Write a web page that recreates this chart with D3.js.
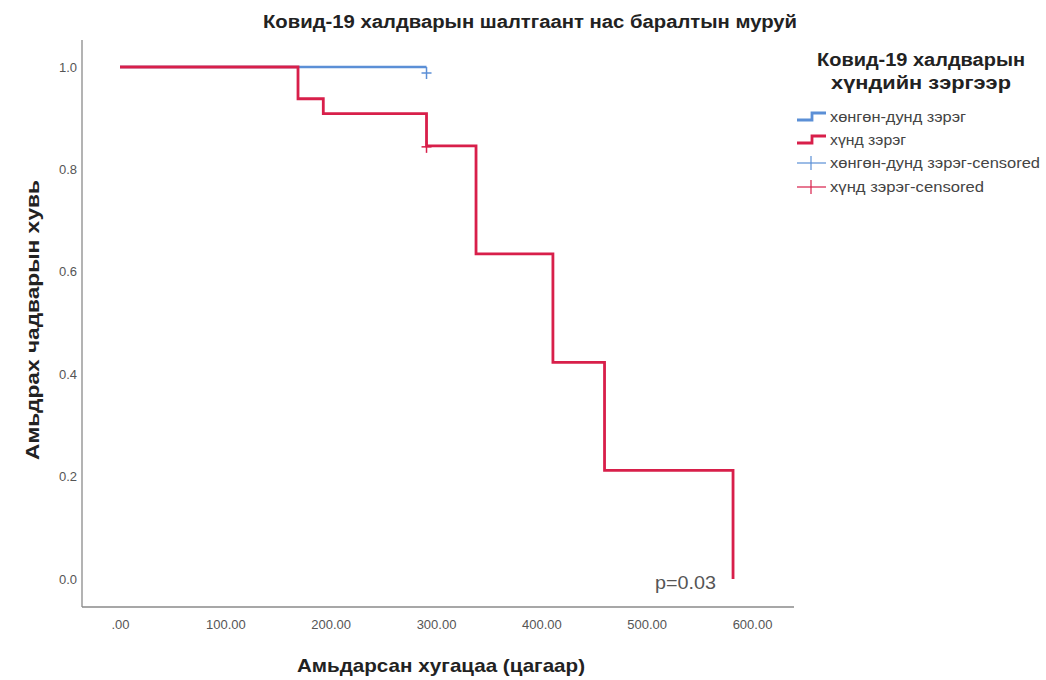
<!DOCTYPE html>
<html>
<head>
<meta charset="utf-8">
<script src="https://cdn.jsdelivr.net/npm/d3@7"></script>
<style>
  body { margin: 0; background: #fff; }
  svg { font-family: "Liberation Sans", Arial, sans-serif; }
</style>
</head>
<body>
<div id="chart"></div>
<script>
// survival curve data (time in hours, survival proportion)
var severeTimes = [0, 169, 193, 291, 338, 411, 460, 582];
var severeSurv = [1.0, 0.938, 0.909, 0.846, 0.635, 0.423, 0.212, 0.0];
var severeCensorTimes = [291];
var severeCensorSurv = [0.846];

var mildTimes = [0, 291];
var mildSurv = [1.0, 1.0];
var mildCensorTimes = [291];
var mildCensorSurv = [1.0];

var xTicks = [0, 100, 200, 300, 400, 500, 600];
var yTicks = [0, 0.2, 0.4, 0.6, 0.8, 1.0];

var legendLabels = ["хөнгөн-дунд зэрэг", "хүнд зэрэг", "хөнгөн-дунд зэрэг-censored", "хүнд зэрэг-censored"];
var legendWidths = [136, 76, 210, 154];

var blue = "#5b8fd6";
var red = "#d81f4a";

var svgWidth = 1046, svgHeight = 680;

var svg = d3.select("#chart")
  .append("svg")
  .attr("width", svgWidth)
  .attr("height", svgHeight);

// scales
var xScale = d3.scaleLinear().domain([0, 600]).range([120, 752]);
var yScale = d3.scaleLinear().domain([0, 1]).range([579, 67]);

// frame (left + bottom lines)
svg.append("line").attr("x1", 82).attr("x2", 82).attr("y1", 40).attr("y2", 607)
  .attr("stroke", "#8a8a8a").attr("stroke-width", 1.3);
svg.append("line").attr("x1", 82).attr("x2", 794).attr("y1", 607).attr("y2", 607)
  .attr("stroke", "#8a8a8a").attr("stroke-width", 1.3);

// axes, no tick marks, just labels
var xAxis = d3.axisBottom(xScale)
  .tickValues(xTicks)
  .tickSize(0)
  .tickFormat(function (d) { return d === 0 ? ".00" : d.toFixed(2); });
var gx = svg.append("g")
  .attr("transform", "translate(0,617)")
  .call(xAxis);
gx.select(".domain").remove();
gx.selectAll("text").attr("fill", "#555").attr("font-size", 13)
  .attr("font-family", "Liberation Sans, Arial, sans-serif");

var yAxis = d3.axisLeft(yScale)
  .tickValues(yTicks)
  .tickSize(0)
  .tickFormat(d3.format(".1f"));
var gy = svg.append("g")
  .attr("transform", "translate(80,0)")
  .call(yAxis);
gy.select(".domain").remove();
gy.selectAll("text").attr("fill", "#555").attr("font-size", 13)
  .attr("font-family", "Liberation Sans, Arial, sans-serif");

// step lines
var stepLine = d3.line()
  .x(function (d) { return xScale(d[0]); })
  .y(function (d) { return yScale(d[1]); })
  .curve(d3.curveStepAfter);

var mildData = d3.zip(mildTimes, mildSurv);
var severeData = d3.zip(severeTimes, severeSurv);

svg.append("path")
  .datum(mildData)
  .attr("d", stepLine)
  .attr("fill", "none")
  .attr("stroke", blue)
  .attr("stroke-width", 2.5);

// last point of severe curve drops straight to 0
svg.append("path")
  .datum(severeData)
  .attr("d", stepLine)
  .attr("fill", "none")
  .attr("stroke", red)
  .attr("stroke-width", 2.8);

// censored markers (+)
function drawCensor(times, surv, color, dy) {
  d3.zip(times, surv).forEach(function (d) {
    var cx = xScale(d[0]), cy = yScale(d[1]) + dy;
    svg.append("line").attr("x1", cx - 5).attr("x2", cx + 5).attr("y1", cy).attr("y2", cy)
      .attr("stroke", color).attr("stroke-width", 1.5);
    svg.append("line").attr("x1", cx).attr("x2", cx).attr("y1", cy - 6).attr("y2", cy + 6)
      .attr("stroke", color).attr("stroke-width", 1.5);
  });
}
drawCensor(mildCensorTimes, mildCensorSurv, blue, 6);
drawCensor(severeCensorTimes, severeCensorSurv, red, 1);

// title
svg.append("text")
  .attr("x", 530).attr("y", 28)
  .attr("text-anchor", "middle")
  .attr("font-size", 18).attr("font-weight", "bold").attr("fill", "#222")
  .attr("textLength", 534).attr("lengthAdjust", "spacingAndGlyphs")
  .text("Ковид-19 халдварын шалтгаант нас баралтын муруй");

// axis labels
svg.append("text")
  .attr("x", 441).attr("y", 672)
  .attr("text-anchor", "middle")
  .attr("font-size", 19).attr("font-weight", "bold").attr("fill", "#222")
  .attr("textLength", 288).attr("lengthAdjust", "spacingAndGlyphs")
  .text("Амьдарсан хугацаа (цагаар)");

svg.append("text")
  .attr("transform", "translate(39,320) rotate(-90)")
  .attr("text-anchor", "middle")
  .attr("font-size", 19).attr("font-weight", "bold").attr("fill", "#222")
  .attr("textLength", 280).attr("lengthAdjust", "spacingAndGlyphs")
  .text("Амьдрах чадварын хувь");

// p value
svg.append("text")
  .attr("x", 716).attr("y", 589)
  .attr("text-anchor", "end")
  .attr("font-size", 19).attr("fill", "#555")
  .attr("textLength", 61).attr("lengthAdjust", "spacingAndGlyphs")
  .text("p=0.03");

// legend
svg.append("text")
  .attr("x", 921).attr("y", 66)
  .attr("text-anchor", "middle")
  .attr("font-size", 18).attr("font-weight", "bold").attr("fill", "#222")
  .attr("textLength", 208).attr("lengthAdjust", "spacingAndGlyphs")
  .text("Ковид-19 халдварын");
svg.append("text")
  .attr("x", 921).attr("y", 89)
  .attr("text-anchor", "middle")
  .attr("font-size", 18).attr("font-weight", "bold").attr("fill", "#222")
  .attr("textLength", 180).attr("lengthAdjust", "spacingAndGlyphs")
  .text("хүндийн зэргээр");

var legendColors = [blue, red, blue, red];
var legendY = [117, 140, 163, 187];

legendLabels.forEach(function (label, i) {
  var y = legendY[i];
  if (i < 2) {
    svg.append("path")
      .attr("d", "M797," + (y + 3) + "H812V" + (y - 4) + "H826")
      .attr("fill", "none")
      .attr("stroke", legendColors[i])
      .attr("stroke-width", 2.8);
  } else {
    svg.append("line").attr("x1", 797).attr("x2", 826).attr("y1", y).attr("y2", y)
      .attr("stroke", legendColors[i]).attr("stroke-width", 1.2);
    svg.append("line").attr("x1", 811).attr("x2", 811).attr("y1", y - 7).attr("y2", y + 7)
      .attr("stroke", legendColors[i]).attr("stroke-width", 1.2);
  }
  svg.append("text")
    .attr("x", 830).attr("y", y + 5)
    .attr("font-size", 14).attr("fill", "#444")
    .attr("textLength", legendWidths[i]).attr("lengthAdjust", "spacingAndGlyphs")
    .text(label);
});
</script>
</body>
</html>
